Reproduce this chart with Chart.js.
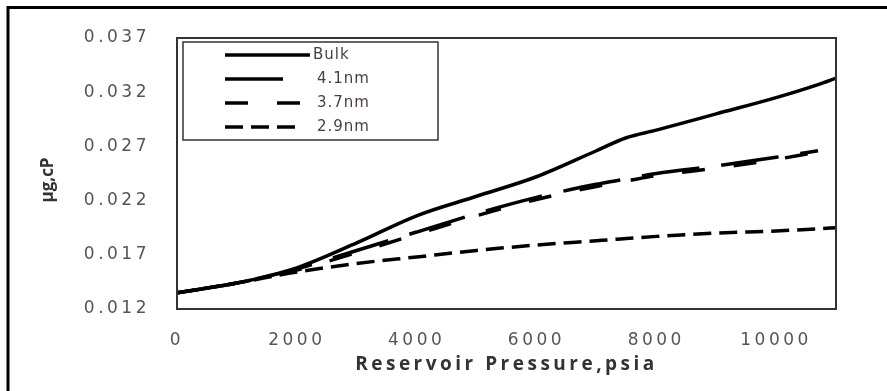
<!DOCTYPE html>
<html>
<head>
<meta charset="utf-8">
<style>
  html, body { margin: 0; padding: 0; background: #fff; }
  #wrap { width: 887px; height: 391px; position: relative; }
</style>
<script src="https://cdn.jsdelivr.net/npm/chart.js@4/dist/chart.umd.min.js"></script>
</head>
<body>
<div id="wrap"><canvas id="chart"></canvas></div>
<script>
// reservoir pressure, psia
const pressure = [0, 1000, 2000, 3000, 4000, 5000, 6000, 7000, 7500, 8000, 9000, 10000, 10700, 11000];

// gas viscosity, cP
const bulk = [0.0135, 0.0144, 0.0158, 0.0181, 0.0206, 0.0224, 0.0242, 0.0266, 0.0278, 0.0285, 0.0300, 0.0315, 0.0327, 0.0333];
const nm41 = [0.0135, 0.0144, 0.0157, 0.0174, 0.0191, 0.0208, 0.0223, 0.0235, 0.0240, 0.0245, 0.0252, 0.0260, 0.0266, null];
const nm37 = [0.0135, 0.0144, 0.0156, 0.0172, 0.0189, 0.0206, 0.0221, 0.0233, 0.0238, 0.0243, 0.0250, 0.0258, 0.0265, null];
const nm29 = [0.0135, 0.0144, 0.0154, 0.0162, 0.0168, 0.0174, 0.0179, 0.0183, 0.0185, 0.0187, 0.0190, 0.0192, 0.0194, 0.0195];

const seriesLabels = ['Bulk', '4.1nm', '3.7nm', '2.9nm'];
const xTicks = [0, 2000, 4000, 6000, 8000, 10000];

const points = (ys) => pressure.map((x, i) => ({ x, y: ys[i] }));

const dashes = [[], [58, 22], [23, 29], [18, 8]];

const datasets = [bulk, nm41, nm37, nm29].map((ys, i) => ({
    label: seriesLabels[i],
    data: points(ys),
    borderColor: '#000',
    borderWidth: 3.5,
    borderDash: dashes[i],
    pointRadius: 0,
    cubicInterpolationMode: 'monotone',
    spanGaps: false,
}));

// the source figure is stretched sideways, so its text runs wide
const wideText = {
    id: 'wideText',
    beforeDraw(chart) {
        chart.ctx.letterSpacing = '3.5px';
    },
};

// frame around the figure, plot box, y title and the boxed legend
const decorations = {
    id: 'decorations',
    afterDraw(chart) {
        const { ctx, chartArea: a } = chart;
        ctx.save();

        ctx.strokeStyle = '#000';
        ctx.lineWidth = 3;
        ctx.beginPath();
        ctx.moveTo(8, 391);
        ctx.lineTo(8, 7.5);
        ctx.lineTo(887, 7.5);
        ctx.stroke();

        ctx.strokeStyle = '#333';
        ctx.lineWidth = 2;
        ctx.strokeRect(a.left, a.top, a.right - a.left, a.bottom - a.top);

        ctx.letterSpacing = '0px';
        ctx.save();
        ctx.translate(48, 180);
        ctx.rotate(-Math.PI / 2);
        ctx.font = 'bold 17px "Open Sans"';
        ctx.fillStyle = '#333';
        ctx.textAlign = 'center';
        ctx.textBaseline = 'middle';
        ctx.fillText('μg,cP', 0, 0);
        ctx.restore();

        const bx = a.left + 6, by = a.top + 4;
        ctx.lineWidth = 1.5;
        ctx.strokeRect(bx, by, 255, 98);

        ctx.letterSpacing = '1px';
        ctx.font = '15px "DejaVu Sans"';
        ctx.textBaseline = 'middle';
        chart.data.datasets.forEach((ds, i) => {
            const y = by + 13 + i * 24;
            ctx.strokeStyle = '#000';
            ctx.lineWidth = 3.5;
            ctx.setLineDash(ds.borderDash);
            ctx.beginPath();
            ctx.moveTo(bx + 42, y);
            ctx.lineTo(bx + (i === 0 ? 127 : 119), y);
            ctx.stroke();
            ctx.setLineDash([]);
            ctx.fillStyle = '#4a3d4a';
            ctx.fillText(ds.label, bx + (i === 0 ? 130 : 134), y);
        });
        ctx.restore();
    },
};

new Chart(document.getElementById('chart'), {
    type: 'line',
    data: { datasets },
    options: {
        responsive: true,
        maintainAspectRatio: false,
        animation: false,
        layout: { padding: { top: 38, right: 51, left: 0, bottom: 0 } },
        plugins: {
            legend: { display: false },
            tooltip: { enabled: false },
        },
        scales: {
            x: {
                type: 'linear',
                min: 0,
                max: 11000,
                grid: { display: false, drawTicks: false },
                border: { display: false },
                afterBuildTicks: (scale) => {
                    scale.ticks = xTicks.map((value) => ({ value }));
                },
                afterFit: (scale) => { scale.height = 82; },
                ticks: {
                    padding: 21,
                    maxRotation: 0,
                    color: '#555',
                    font: { family: '"DejaVu Sans"', size: 17 },
                    callback: (v) => String(v),
                },
                title: {
                    display: true,
                    text: 'Reservoir Pressure,psia',
                    color: '#333',
                    font: { family: '"Open Sans"', size: 19, weight: 'bold' },
                    padding: { top: 4, bottom: 15 },
                },
            },
            y: {
                min: 0.012,
                max: 0.037,
                grid: { display: false, drawTicks: false },
                border: { display: false },
                afterFit: (scale) => { scale.width = 177; },
                ticks: {
                    stepSize: 0.005,
                    padding: 27,
                    color: '#555',
                    font: { family: '"DejaVu Sans"', size: 17 },
                    callback: (v) => v.toFixed(3),
                },
                title: { display: false },
            },
        },
    },
    plugins: [wideText, decorations],
});
</script>
</body>
</html>
